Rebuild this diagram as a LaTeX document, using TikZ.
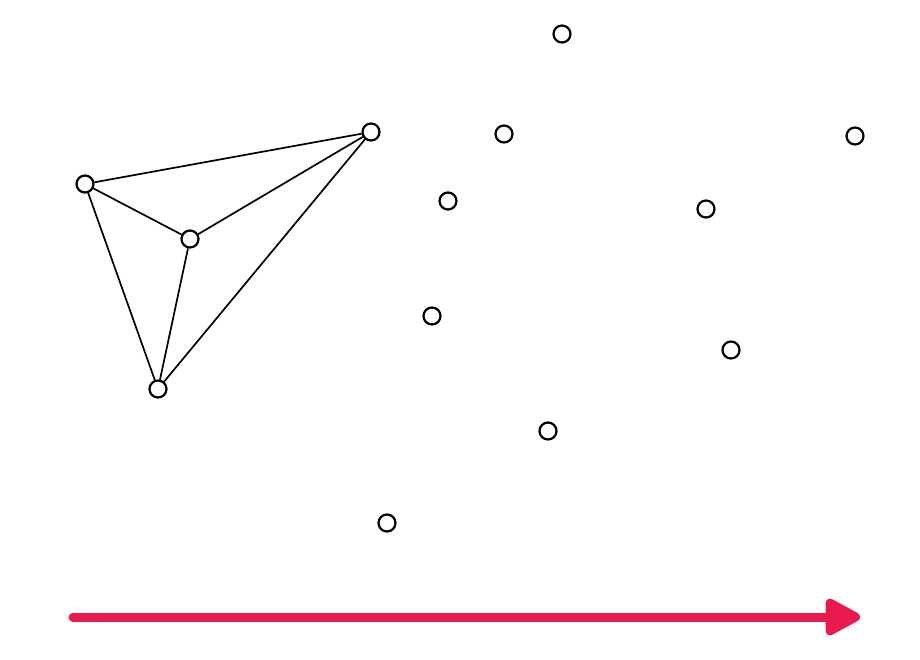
\documentclass[tikz,border=0pt]{standalone}
\usepackage{tikz}
\usetikzlibrary{arrows.meta}
\definecolor{ArrowRed}{HTML}{E91A4E}

\begin{document}
\begin{tikzpicture}[
  x=1pt,y=-1pt,
  pt/.style={circle,draw=black,fill=white,line width=2.2pt,minimum size=17pt,inner sep=0pt},
  edge/.style={draw=black,line width=1.7pt},
  axis/.style={-{Triangle[length=40pt,width=40pt,round]},line width=9pt,line cap=round,color=ArrowRed}
]
\useasboundingbox[fill=white] (0,0) rectangle (920,659);
% triangulated points
\node[pt] (a) at (85,184) {};
\node[pt] (b) at (190,239) {};
\node[pt] (c) at (371,132) {};
\node[pt] (d) at (158,389) {};
% free points
\node[pt] (p1) at (562,34) {};
\node[pt] (p2) at (504,134) {};
\node[pt] (p3) at (855,136) {};
\node[pt] (p4) at (448,201) {};
\node[pt] (p5) at (706,209) {};
\node[pt] (p6) at (432,316) {};
\node[pt] (p7) at (731,350) {};
\node[pt] (p8) at (548,431) {};
\node[pt] (p9) at (387,523) {};
\draw[edge] (a)--(c);
\draw[edge] (a)--(b);
\draw[edge] (b)--(c);
\draw[edge] (a)--(d);
\draw[edge] (b)--(d);
\draw[edge] (c)--(d);
% sweep direction
\coordinate (s) at (73,617);
\coordinate (e) at (860,617);
\draw[axis] (s)--(e);
\end{tikzpicture}
\end{document}
